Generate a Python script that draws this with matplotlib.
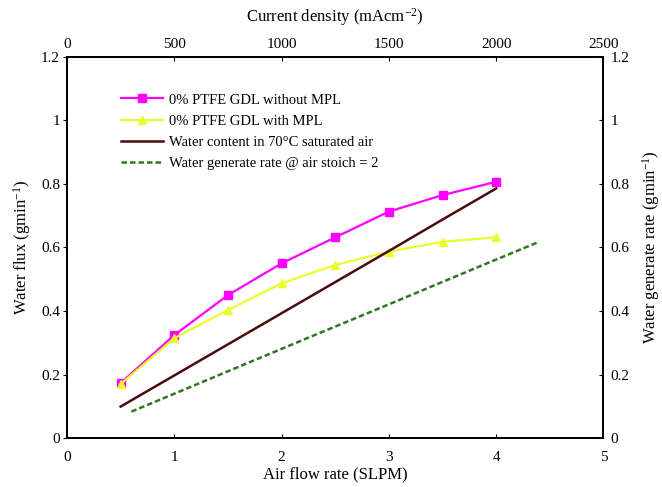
import numpy as np
import matplotlib.pyplot as plt
from matplotlib.ticker import FuncFormatter, MultipleLocator

plt.rcParams['font.family'] = ['Liberation Serif', 'DejaVu Serif']
plt.rcParams['mathtext.fontset'] = 'custom'
plt.rcParams['mathtext.rm'] = 'Liberation Serif'
plt.rcParams['mathtext.it'] = 'Liberation Serif:italic'
plt.rcParams['mathtext.bf'] = 'Liberation Serif:bold'

# air flow rate (SLPM)
flujo_aire = [0.5, 1.0, 1.5, 2.0, 2.5, 3.0, 3.5, 4.0]
# water flux (g/min)
gdl_sin_mpl = [0.173, 0.324, 0.450, 0.550, 0.632, 0.713, 0.765, 0.807]
gdl_con_mpl = [0.170, 0.314, 0.403, 0.487, 0.545, 0.587, 0.618, 0.632]
agua_saturada = [0.099, 0.197, 0.295, 0.393, 0.491, 0.589, 0.688, 0.786]
# water generation vs current density (mA/cm2)
densidad_corriente = [300, 700, 1100, 1500, 1900, 2200]
agua_generada = [0.083, 0.196, 0.309, 0.421, 0.534, 0.618]

fig = plt.figure(figsize=(6.62, 4.87), dpi=100)
ax = fig.add_axes([0.1012, 0.1006, 0.8104, 0.7824])
ax2 = ax.twinx().twiny()

fmt = FuncFormatter(lambda v, p: '%g' % round(v, 2))

ax.plot(flujo_aire, gdl_sin_mpl, '-s', color='#ff00ff', lw=1.6, ms=6,
        label='0% PTFE GDL without MPL')
ax.plot(flujo_aire, gdl_con_mpl, '-^', color='#e8ff2e', lw=1.6, ms=6,
        label='0% PTFE GDL with MPL')
ax.plot(flujo_aire, agua_saturada, '-', color='#4a0c0c', lw=1.8,
        label='Water content in 70\u00b0C saturated air')
linea_gen, = ax2.plot(densidad_corriente, agua_generada, '--', color='#2a7a1e',
                      lw=1.8, dashes=(2.2, 1.2))
ax.plot([], [], '--', color='#2a7a1e', lw=1.8, dashes=(2.2, 1.2),
        label='Water generate rate @ air stoich = 2')

ax.set_xlim(0, 5)
ax.set_ylim(0, 1.2)
ax.xaxis.set_major_locator(MultipleLocator(1))
ax.yaxis.set_major_locator(MultipleLocator(0.2))
ax.yaxis.set_major_formatter(fmt)
ax.tick_params(axis='x', direction='in', length=3, labelsize=11, pad=9)
ax.tick_params(axis='y', direction='out', length=3, labelsize=11, pad=2)
ax.set_xlabel('Air flow rate (SLPM)', fontsize=12, labelpad=2)
ax.set_ylabel('Water flux (gmin$^{-1}$)', fontsize=12, labelpad=6)

# secondary axes: current density on top, generation rate on right
ax2.set_xlim(0, 2500)
ax2.set_ylim(0, 1.2)
ax2.xaxis.set_major_locator(MultipleLocator(500))
ax2.tick_params(axis='x', direction='in', length=3, labelsize=11, pad=4)
ax2.set_xlabel('Current density (mAcm$^{-2}$)', fontsize=12, labelpad=12)
ax_r = ax2.figure.axes[1]
ax_r.set_ylim(0, 1.2)
ax_r.yaxis.set_major_locator(MultipleLocator(0.2))
ax_r.yaxis.set_major_formatter(fmt)
ax_r.tick_params(axis='y', direction='in', length=3, labelsize=11, pad=5)
ax_r.set_ylabel('Water generate rate (gmin$^{-1}$)', fontsize=12, labelpad=8)

for a in fig.axes:
    for s in a.spines.values():
        s.set_linewidth(1.2)

ax.legend(loc='upper left', bbox_to_anchor=(0.09, 0.92), frameon=False,
          fontsize=10.5, handlelength=2.9, handletextpad=0.35, labelspacing=0.55,
          borderaxespad=0)

fig.savefig('out.png', dpi=100)
